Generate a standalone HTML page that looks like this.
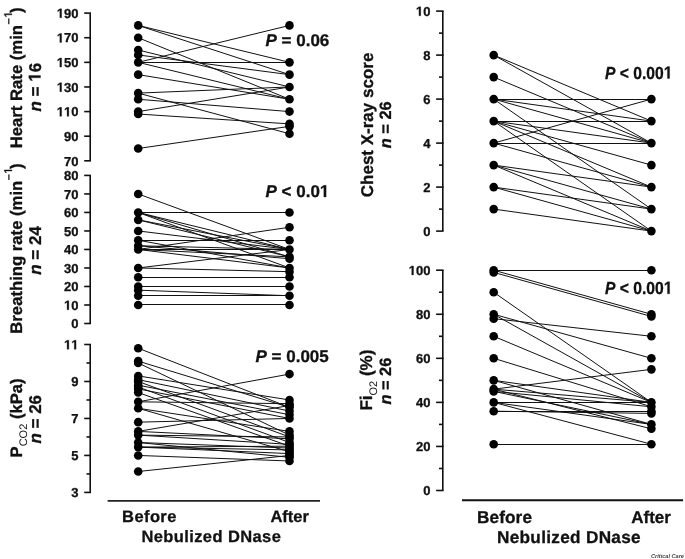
<!DOCTYPE html>
<html><head><meta charset="utf-8"><style>
html,body{margin:0;padding:0;background:#fff;}
svg{display:block;will-change:transform;}
text{font-family:"Liberation Sans", sans-serif;font-weight:bold;fill:#111;stroke:#111;stroke-width:0.3px;text-rendering:geometricPrecision;}
.tl{font-size:13px;text-anchor:end;}
.lab{font-size:16.6px;}
.nl{font-size:16px;}
.bb{font-size:16.5px;}
.pv{font-size:15.5px;}
.it{font-style:italic;}
.sub{font-weight:normal;font-size:11px;stroke:none;}
</style></head><body>
<svg width="685" height="559" viewBox="0 0 685 559">
<rect width="685" height="559" fill="#fff"/>
<line x1="90.2" y1="13.1" x2="90.2" y2="160.82" stroke="#111" stroke-width="1.6"/>
<line x1="84.2" y1="13.10" x2="91.0" y2="13.10" stroke="#111" stroke-width="1.6"/>
<line x1="84.2" y1="37.72" x2="91.0" y2="37.72" stroke="#111" stroke-width="1.6"/>
<line x1="84.2" y1="62.34" x2="91.0" y2="62.34" stroke="#111" stroke-width="1.6"/>
<line x1="84.2" y1="86.96" x2="91.0" y2="86.96" stroke="#111" stroke-width="1.6"/>
<line x1="84.2" y1="111.58" x2="91.0" y2="111.58" stroke="#111" stroke-width="1.6"/>
<line x1="84.2" y1="136.20" x2="91.0" y2="136.20" stroke="#111" stroke-width="1.6"/>
<line x1="84.2" y1="160.82" x2="91.0" y2="160.82" stroke="#111" stroke-width="1.6"/>
<g><text id="o1" x="78.50" y="17.80" class="tl">&#8199;90</text><path d="M478,0L478,1170L140,959L140,1180L493,1409L759,1409L759,0Z" transform="translate(56.80,17.80) scale(0.006348,-0.006348)" fill="#111" stroke="#111" stroke-width="47.3"/></g>
<g><text id="o2" x="78.50" y="42.42" class="tl">&#8199;70</text><path d="M478,0L478,1170L140,959L140,1180L493,1409L759,1409L759,0Z" transform="translate(56.80,42.42) scale(0.006348,-0.006348)" fill="#111" stroke="#111" stroke-width="47.3"/></g>
<g><text id="o3" x="78.50" y="67.04" class="tl">&#8199;50</text><path d="M478,0L478,1170L140,959L140,1180L493,1409L759,1409L759,0Z" transform="translate(56.80,67.04) scale(0.006348,-0.006348)" fill="#111" stroke="#111" stroke-width="47.3"/></g>
<g><text id="o4" x="78.50" y="91.66" class="tl">&#8199;30</text><path d="M478,0L478,1170L140,959L140,1180L493,1409L759,1409L759,0Z" transform="translate(56.80,91.66) scale(0.006348,-0.006348)" fill="#111" stroke="#111" stroke-width="47.3"/></g>
<g><text id="o5" x="78.50" y="116.28" class="tl">&#8199;&#8199;0</text><path d="M478,0L478,1170L140,959L140,1180L493,1409L759,1409L759,0Z" transform="translate(56.80,116.28) scale(0.006348,-0.006348)" fill="#111" stroke="#111" stroke-width="47.3"/><path d="M478,0L478,1170L140,959L140,1180L493,1409L759,1409L759,0Z" transform="translate(64.02,116.28) scale(0.006348,-0.006348)" fill="#111" stroke="#111" stroke-width="47.3"/></g>
<text x="78.50" y="140.90" class="tl">90</text>
<text x="78.50" y="165.52" class="tl">70</text>
<line x1="138.2" y1="25.41" x2="289.5" y2="62.34" stroke="#111" stroke-width="1.0"/>
<line x1="138.2" y1="25.41" x2="289.5" y2="74.65" stroke="#111" stroke-width="1.0"/>
<line x1="138.2" y1="37.72" x2="289.5" y2="99.27" stroke="#111" stroke-width="1.0"/>
<line x1="138.2" y1="50.03" x2="289.5" y2="86.96" stroke="#111" stroke-width="1.0"/>
<line x1="138.2" y1="54.95" x2="289.5" y2="74.65" stroke="#111" stroke-width="1.0"/>
<line x1="138.2" y1="62.34" x2="289.5" y2="25.41" stroke="#111" stroke-width="1.0"/>
<line x1="138.2" y1="62.50" x2="289.5" y2="62.50" stroke="#111" stroke-width="1.0"/>
<line x1="138.2" y1="62.34" x2="289.5" y2="99.27" stroke="#111" stroke-width="1.0"/>
<line x1="138.2" y1="74.65" x2="289.5" y2="99.27" stroke="#111" stroke-width="1.0"/>
<line x1="138.2" y1="93.11" x2="289.5" y2="86.96" stroke="#111" stroke-width="1.0"/>
<line x1="138.2" y1="93.11" x2="289.5" y2="133.74" stroke="#111" stroke-width="1.0"/>
<line x1="138.2" y1="99.27" x2="289.5" y2="111.58" stroke="#111" stroke-width="1.0"/>
<line x1="138.2" y1="111.58" x2="289.5" y2="86.96" stroke="#111" stroke-width="1.0"/>
<line x1="138.2" y1="114.04" x2="289.5" y2="123.89" stroke="#111" stroke-width="1.0"/>
<line x1="138.2" y1="148.51" x2="289.5" y2="126.35" stroke="#111" stroke-width="1.0"/>
<circle cx="138.2" cy="25.41" r="4.3" fill="#000"/>
<circle cx="289.5" cy="62.34" r="4.3" fill="#000"/>
<circle cx="289.5" cy="74.65" r="4.3" fill="#000"/>
<circle cx="138.2" cy="37.72" r="4.3" fill="#000"/>
<circle cx="289.5" cy="99.27" r="4.3" fill="#000"/>
<circle cx="138.2" cy="50.03" r="4.3" fill="#000"/>
<circle cx="289.5" cy="86.96" r="4.3" fill="#000"/>
<circle cx="138.2" cy="54.95" r="4.3" fill="#000"/>
<circle cx="138.2" cy="62.34" r="4.3" fill="#000"/>
<circle cx="289.5" cy="25.41" r="4.3" fill="#000"/>
<circle cx="138.2" cy="74.65" r="4.3" fill="#000"/>
<circle cx="138.2" cy="93.11" r="4.3" fill="#000"/>
<circle cx="289.5" cy="133.74" r="4.3" fill="#000"/>
<circle cx="138.2" cy="99.27" r="4.3" fill="#000"/>
<circle cx="289.5" cy="111.58" r="4.3" fill="#000"/>
<circle cx="138.2" cy="111.58" r="4.3" fill="#000"/>
<circle cx="138.2" cy="114.04" r="4.3" fill="#000"/>
<circle cx="289.5" cy="123.89" r="4.3" fill="#000"/>
<circle cx="138.2" cy="148.51" r="4.3" fill="#000"/>
<circle cx="289.5" cy="126.35" r="4.3" fill="#000"/>
<line x1="90.2" y1="175.42000000000002" x2="90.2" y2="323.5" stroke="#111" stroke-width="1.6"/>
<line x1="84.2" y1="175.42" x2="91.0" y2="175.42" stroke="#111" stroke-width="1.6"/>
<line x1="84.2" y1="193.93" x2="91.0" y2="193.93" stroke="#111" stroke-width="1.6"/>
<line x1="84.2" y1="212.44" x2="91.0" y2="212.44" stroke="#111" stroke-width="1.6"/>
<line x1="84.2" y1="230.95" x2="91.0" y2="230.95" stroke="#111" stroke-width="1.6"/>
<line x1="84.2" y1="249.46" x2="91.0" y2="249.46" stroke="#111" stroke-width="1.6"/>
<line x1="84.2" y1="267.97" x2="91.0" y2="267.97" stroke="#111" stroke-width="1.6"/>
<line x1="84.2" y1="286.48" x2="91.0" y2="286.48" stroke="#111" stroke-width="1.6"/>
<line x1="84.2" y1="304.99" x2="91.0" y2="304.99" stroke="#111" stroke-width="1.6"/>
<line x1="84.2" y1="323.50" x2="91.0" y2="323.50" stroke="#111" stroke-width="1.6"/>
<text x="78.50" y="180.12" class="tl">80</text>
<text x="78.50" y="198.63" class="tl">70</text>
<text x="78.50" y="217.14" class="tl">60</text>
<text x="78.50" y="235.65" class="tl">50</text>
<text x="78.50" y="254.16" class="tl">40</text>
<text x="78.50" y="272.67" class="tl">30</text>
<text x="78.50" y="291.18" class="tl">20</text>
<g><text id="o6" x="78.50" y="309.69" class="tl">&#8199;0</text><path d="M478,0L478,1170L140,959L140,1180L493,1409L759,1409L759,0Z" transform="translate(64.03,309.69) scale(0.006348,-0.006348)" fill="#111" stroke="#111" stroke-width="47.3"/></g>
<text x="78.50" y="328.20" class="tl">0</text>
<line x1="138.2" y1="193.93" x2="289.5" y2="249.46" stroke="#111" stroke-width="1.0"/>
<line x1="138.2" y1="212.50" x2="289.5" y2="212.50" stroke="#111" stroke-width="1.0"/>
<line x1="138.2" y1="212.44" x2="289.5" y2="249.46" stroke="#111" stroke-width="1.0"/>
<line x1="138.2" y1="212.44" x2="289.5" y2="256.86" stroke="#111" stroke-width="1.0"/>
<line x1="138.2" y1="212.44" x2="289.5" y2="267.97" stroke="#111" stroke-width="1.0"/>
<line x1="138.2" y1="219.84" x2="289.5" y2="249.46" stroke="#111" stroke-width="1.0"/>
<line x1="138.2" y1="230.95" x2="289.5" y2="249.46" stroke="#111" stroke-width="1.0"/>
<line x1="138.2" y1="240.50" x2="289.5" y2="240.50" stroke="#111" stroke-width="1.0"/>
<line x1="138.2" y1="240.20" x2="289.5" y2="267.97" stroke="#111" stroke-width="1.0"/>
<line x1="138.2" y1="245.76" x2="289.5" y2="249.46" stroke="#111" stroke-width="1.0"/>
<line x1="138.2" y1="245.76" x2="289.5" y2="258.72" stroke="#111" stroke-width="1.0"/>
<line x1="138.2" y1="249.46" x2="289.5" y2="227.25" stroke="#111" stroke-width="1.0"/>
<line x1="138.2" y1="249.50" x2="289.5" y2="249.50" stroke="#111" stroke-width="1.0"/>
<line x1="138.2" y1="249.46" x2="289.5" y2="256.86" stroke="#111" stroke-width="1.0"/>
<line x1="138.2" y1="267.97" x2="289.5" y2="249.46" stroke="#111" stroke-width="1.0"/>
<line x1="138.2" y1="267.97" x2="289.5" y2="271.67" stroke="#111" stroke-width="1.0"/>
<line x1="138.2" y1="277.50" x2="289.5" y2="277.50" stroke="#111" stroke-width="1.0"/>
<line x1="138.2" y1="286.50" x2="289.5" y2="286.50" stroke="#111" stroke-width="1.0"/>
<line x1="138.2" y1="290.18" x2="289.5" y2="295.74" stroke="#111" stroke-width="1.0"/>
<line x1="138.2" y1="295.50" x2="289.5" y2="295.50" stroke="#111" stroke-width="1.0"/>
<line x1="138.2" y1="304.50" x2="289.5" y2="304.50" stroke="#111" stroke-width="1.0"/>
<line x1="138.2" y1="219.84" x2="289.5" y2="256.86" stroke="#111" stroke-width="1.0"/>
<line x1="138.2" y1="249.46" x2="289.5" y2="267.97" stroke="#111" stroke-width="1.0"/>
<circle cx="138.2" cy="193.93" r="4.3" fill="#000"/>
<circle cx="289.5" cy="249.46" r="4.3" fill="#000"/>
<circle cx="138.2" cy="212.44" r="4.3" fill="#000"/>
<circle cx="289.5" cy="212.44" r="4.3" fill="#000"/>
<circle cx="289.5" cy="256.86" r="4.3" fill="#000"/>
<circle cx="289.5" cy="267.97" r="4.3" fill="#000"/>
<circle cx="138.2" cy="219.84" r="4.3" fill="#000"/>
<circle cx="138.2" cy="230.95" r="4.3" fill="#000"/>
<circle cx="138.2" cy="240.20" r="4.3" fill="#000"/>
<circle cx="289.5" cy="240.20" r="4.3" fill="#000"/>
<circle cx="138.2" cy="245.76" r="4.3" fill="#000"/>
<circle cx="289.5" cy="258.72" r="4.3" fill="#000"/>
<circle cx="138.2" cy="249.46" r="4.3" fill="#000"/>
<circle cx="289.5" cy="227.25" r="4.3" fill="#000"/>
<circle cx="138.2" cy="267.97" r="4.3" fill="#000"/>
<circle cx="289.5" cy="271.67" r="4.3" fill="#000"/>
<circle cx="138.2" cy="277.23" r="4.3" fill="#000"/>
<circle cx="289.5" cy="277.23" r="4.3" fill="#000"/>
<circle cx="138.2" cy="286.48" r="4.3" fill="#000"/>
<circle cx="289.5" cy="286.48" r="4.3" fill="#000"/>
<circle cx="138.2" cy="290.18" r="4.3" fill="#000"/>
<circle cx="289.5" cy="295.74" r="4.3" fill="#000"/>
<circle cx="138.2" cy="295.74" r="4.3" fill="#000"/>
<circle cx="138.2" cy="304.99" r="4.3" fill="#000"/>
<circle cx="289.5" cy="304.99" r="4.3" fill="#000"/>
<line x1="90.2" y1="344.5" x2="90.2" y2="492.41999999999996" stroke="#111" stroke-width="1.6"/>
<line x1="84.2" y1="344.50" x2="91.0" y2="344.50" stroke="#111" stroke-width="1.6"/>
<line x1="84.2" y1="381.48" x2="91.0" y2="381.48" stroke="#111" stroke-width="1.6"/>
<line x1="84.2" y1="418.46" x2="91.0" y2="418.46" stroke="#111" stroke-width="1.6"/>
<line x1="84.2" y1="455.44" x2="91.0" y2="455.44" stroke="#111" stroke-width="1.6"/>
<line x1="84.2" y1="492.42" x2="91.0" y2="492.42" stroke="#111" stroke-width="1.6"/>
<line x1="86.5" y1="362.99" x2="90.2" y2="362.99" stroke="#111" stroke-width="1.6"/>
<line x1="86.5" y1="399.97" x2="90.2" y2="399.97" stroke="#111" stroke-width="1.6"/>
<line x1="86.5" y1="436.95" x2="90.2" y2="436.95" stroke="#111" stroke-width="1.6"/>
<line x1="86.5" y1="473.93" x2="90.2" y2="473.93" stroke="#111" stroke-width="1.6"/>
<g><text id="o7" x="78.50" y="349.20" class="tl">&#8199;&#8199;</text><path d="M478,0L478,1170L140,959L140,1180L493,1409L759,1409L759,0Z" transform="translate(64.03,349.20) scale(0.006348,-0.006348)" fill="#111" stroke="#111" stroke-width="47.3"/><path d="M478,0L478,1170L140,959L140,1180L493,1409L759,1409L759,0Z" transform="translate(71.25,349.20) scale(0.006348,-0.006348)" fill="#111" stroke="#111" stroke-width="47.3"/></g>
<text x="78.50" y="386.18" class="tl">9</text>
<text x="78.50" y="423.16" class="tl">7</text>
<text x="78.50" y="460.14" class="tl">5</text>
<text x="78.50" y="497.12" class="tl">3</text>
<line x1="138.2" y1="348.20" x2="289.5" y2="407.37" stroke="#111" stroke-width="1.0"/>
<line x1="138.2" y1="361.14" x2="289.5" y2="407.37" stroke="#111" stroke-width="1.0"/>
<line x1="138.2" y1="362.99" x2="289.5" y2="435.10" stroke="#111" stroke-width="1.0"/>
<line x1="138.2" y1="375.93" x2="289.5" y2="399.97" stroke="#111" stroke-width="1.0"/>
<line x1="138.2" y1="379.63" x2="289.5" y2="411.06" stroke="#111" stroke-width="1.0"/>
<line x1="138.2" y1="381.48" x2="289.5" y2="436.95" stroke="#111" stroke-width="1.0"/>
<line x1="138.2" y1="385.18" x2="289.5" y2="414.76" stroke="#111" stroke-width="1.0"/>
<line x1="138.2" y1="387.03" x2="289.5" y2="442.50" stroke="#111" stroke-width="1.0"/>
<line x1="138.2" y1="388.88" x2="289.5" y2="418.46" stroke="#111" stroke-width="1.0"/>
<line x1="138.2" y1="392.57" x2="289.5" y2="446.19" stroke="#111" stroke-width="1.0"/>
<line x1="138.2" y1="401.82" x2="289.5" y2="374.08" stroke="#111" stroke-width="1.0"/>
<line x1="138.2" y1="401.82" x2="289.5" y2="403.67" stroke="#111" stroke-width="1.0"/>
<line x1="138.2" y1="408.29" x2="289.5" y2="431.40" stroke="#111" stroke-width="1.0"/>
<line x1="138.2" y1="408.29" x2="289.5" y2="451.74" stroke="#111" stroke-width="1.0"/>
<line x1="138.2" y1="422.16" x2="289.5" y2="418.46" stroke="#111" stroke-width="1.0"/>
<line x1="138.2" y1="431.40" x2="289.5" y2="405.52" stroke="#111" stroke-width="1.0"/>
<line x1="138.2" y1="431.40" x2="289.5" y2="438.80" stroke="#111" stroke-width="1.0"/>
<line x1="138.2" y1="435.10" x2="289.5" y2="436.95" stroke="#111" stroke-width="1.0"/>
<line x1="138.2" y1="435.10" x2="289.5" y2="444.35" stroke="#111" stroke-width="1.0"/>
<line x1="138.2" y1="442.50" x2="289.5" y2="448.04" stroke="#111" stroke-width="1.0"/>
<line x1="138.2" y1="447.12" x2="289.5" y2="446.19" stroke="#111" stroke-width="1.0"/>
<line x1="138.2" y1="447.12" x2="289.5" y2="449.89" stroke="#111" stroke-width="1.0"/>
<line x1="138.2" y1="442.50" x2="289.5" y2="457.29" stroke="#111" stroke-width="1.0"/>
<line x1="138.2" y1="455.44" x2="289.5" y2="460.99" stroke="#111" stroke-width="1.0"/>
<line x1="138.2" y1="447.12" x2="289.5" y2="453.59" stroke="#111" stroke-width="1.0"/>
<line x1="138.2" y1="471.53" x2="289.5" y2="455.44" stroke="#111" stroke-width="1.0"/>
<circle cx="138.2" cy="348.20" r="4.3" fill="#000"/>
<circle cx="289.5" cy="407.37" r="4.3" fill="#000"/>
<circle cx="138.2" cy="361.14" r="4.3" fill="#000"/>
<circle cx="138.2" cy="362.99" r="4.3" fill="#000"/>
<circle cx="289.5" cy="435.10" r="4.3" fill="#000"/>
<circle cx="138.2" cy="375.93" r="4.3" fill="#000"/>
<circle cx="289.5" cy="399.97" r="4.3" fill="#000"/>
<circle cx="138.2" cy="379.63" r="4.3" fill="#000"/>
<circle cx="289.5" cy="411.06" r="4.3" fill="#000"/>
<circle cx="138.2" cy="381.48" r="4.3" fill="#000"/>
<circle cx="289.5" cy="436.95" r="4.3" fill="#000"/>
<circle cx="138.2" cy="385.18" r="4.3" fill="#000"/>
<circle cx="289.5" cy="414.76" r="4.3" fill="#000"/>
<circle cx="138.2" cy="387.03" r="4.3" fill="#000"/>
<circle cx="289.5" cy="442.50" r="4.3" fill="#000"/>
<circle cx="138.2" cy="388.88" r="4.3" fill="#000"/>
<circle cx="289.5" cy="418.46" r="4.3" fill="#000"/>
<circle cx="138.2" cy="392.57" r="4.3" fill="#000"/>
<circle cx="289.5" cy="446.19" r="4.3" fill="#000"/>
<circle cx="138.2" cy="401.82" r="4.3" fill="#000"/>
<circle cx="289.5" cy="374.08" r="4.3" fill="#000"/>
<circle cx="289.5" cy="403.67" r="4.3" fill="#000"/>
<circle cx="138.2" cy="408.29" r="4.3" fill="#000"/>
<circle cx="289.5" cy="431.40" r="4.3" fill="#000"/>
<circle cx="289.5" cy="451.74" r="4.3" fill="#000"/>
<circle cx="138.2" cy="422.16" r="4.3" fill="#000"/>
<circle cx="138.2" cy="431.40" r="4.3" fill="#000"/>
<circle cx="289.5" cy="405.52" r="4.3" fill="#000"/>
<circle cx="289.5" cy="438.80" r="4.3" fill="#000"/>
<circle cx="138.2" cy="435.10" r="4.3" fill="#000"/>
<circle cx="289.5" cy="444.35" r="4.3" fill="#000"/>
<circle cx="138.2" cy="442.50" r="4.3" fill="#000"/>
<circle cx="289.5" cy="448.04" r="4.3" fill="#000"/>
<circle cx="138.2" cy="447.12" r="4.3" fill="#000"/>
<circle cx="289.5" cy="449.89" r="4.3" fill="#000"/>
<circle cx="289.5" cy="457.29" r="4.3" fill="#000"/>
<circle cx="138.2" cy="455.44" r="4.3" fill="#000"/>
<circle cx="289.5" cy="460.99" r="4.3" fill="#000"/>
<circle cx="289.5" cy="453.59" r="4.3" fill="#000"/>
<circle cx="138.2" cy="471.53" r="4.3" fill="#000"/>
<circle cx="289.5" cy="455.44" r="4.3" fill="#000"/>
<line x1="442.8" y1="11.099999999999994" x2="442.8" y2="231.1" stroke="#111" stroke-width="1.6"/>
<line x1="436.1" y1="11.10" x2="443.6" y2="11.10" stroke="#111" stroke-width="1.6"/>
<line x1="436.1" y1="55.10" x2="443.6" y2="55.10" stroke="#111" stroke-width="1.6"/>
<line x1="436.1" y1="99.10" x2="443.6" y2="99.10" stroke="#111" stroke-width="1.6"/>
<line x1="436.1" y1="143.10" x2="443.6" y2="143.10" stroke="#111" stroke-width="1.6"/>
<line x1="436.1" y1="187.10" x2="443.6" y2="187.10" stroke="#111" stroke-width="1.6"/>
<line x1="436.1" y1="231.10" x2="443.6" y2="231.10" stroke="#111" stroke-width="1.6"/>
<line x1="439.0" y1="33.10" x2="442.8" y2="33.10" stroke="#111" stroke-width="1.6"/>
<line x1="439.0" y1="77.10" x2="442.8" y2="77.10" stroke="#111" stroke-width="1.6"/>
<line x1="439.0" y1="121.10" x2="442.8" y2="121.10" stroke="#111" stroke-width="1.6"/>
<line x1="439.0" y1="165.10" x2="442.8" y2="165.10" stroke="#111" stroke-width="1.6"/>
<line x1="439.0" y1="209.10" x2="442.8" y2="209.10" stroke="#111" stroke-width="1.6"/>
<g><text id="o8" x="430.40" y="15.80" class="tl">&#8199;0</text><path d="M478,0L478,1170L140,959L140,1180L493,1409L759,1409L759,0Z" transform="translate(415.93,15.80) scale(0.006348,-0.006348)" fill="#111" stroke="#111" stroke-width="47.3"/></g>
<text x="430.40" y="59.80" class="tl">8</text>
<text x="430.40" y="103.80" class="tl">6</text>
<text x="430.40" y="147.80" class="tl">4</text>
<text x="430.40" y="191.80" class="tl">2</text>
<text x="430.40" y="235.80" class="tl">0</text>
<line x1="493.7" y1="55.10" x2="651.4" y2="121.10" stroke="#111" stroke-width="1.0"/>
<line x1="493.7" y1="55.10" x2="651.4" y2="143.10" stroke="#111" stroke-width="1.0"/>
<line x1="493.7" y1="77.10" x2="651.4" y2="143.10" stroke="#111" stroke-width="1.0"/>
<line x1="493.7" y1="99.50" x2="651.4" y2="99.50" stroke="#111" stroke-width="1.0"/>
<line x1="493.7" y1="99.10" x2="651.4" y2="121.10" stroke="#111" stroke-width="1.0"/>
<line x1="493.7" y1="99.10" x2="651.4" y2="143.10" stroke="#111" stroke-width="1.0"/>
<line x1="493.7" y1="99.10" x2="651.4" y2="209.10" stroke="#111" stroke-width="1.0"/>
<line x1="493.7" y1="121.50" x2="651.4" y2="121.50" stroke="#111" stroke-width="1.0"/>
<line x1="493.7" y1="121.10" x2="651.4" y2="143.10" stroke="#111" stroke-width="1.0"/>
<line x1="493.7" y1="121.10" x2="651.4" y2="165.10" stroke="#111" stroke-width="1.0"/>
<line x1="493.7" y1="121.10" x2="651.4" y2="187.10" stroke="#111" stroke-width="1.0"/>
<line x1="493.7" y1="121.10" x2="651.4" y2="231.10" stroke="#111" stroke-width="1.0"/>
<line x1="493.7" y1="143.10" x2="651.4" y2="99.10" stroke="#111" stroke-width="1.0"/>
<line x1="493.7" y1="143.50" x2="651.4" y2="143.50" stroke="#111" stroke-width="1.0"/>
<line x1="493.7" y1="143.10" x2="651.4" y2="187.10" stroke="#111" stroke-width="1.0"/>
<line x1="493.7" y1="165.10" x2="651.4" y2="187.10" stroke="#111" stroke-width="1.0"/>
<line x1="493.7" y1="165.10" x2="651.4" y2="209.10" stroke="#111" stroke-width="1.0"/>
<line x1="493.7" y1="165.10" x2="651.4" y2="231.10" stroke="#111" stroke-width="1.0"/>
<line x1="493.7" y1="187.10" x2="651.4" y2="209.10" stroke="#111" stroke-width="1.0"/>
<line x1="493.7" y1="187.10" x2="651.4" y2="231.10" stroke="#111" stroke-width="1.0"/>
<line x1="493.7" y1="209.10" x2="651.4" y2="231.10" stroke="#111" stroke-width="1.0"/>
<circle cx="493.7" cy="55.10" r="4.3" fill="#000"/>
<circle cx="651.4" cy="121.10" r="4.3" fill="#000"/>
<circle cx="651.4" cy="143.10" r="4.3" fill="#000"/>
<circle cx="493.7" cy="77.10" r="4.3" fill="#000"/>
<circle cx="493.7" cy="99.10" r="4.3" fill="#000"/>
<circle cx="651.4" cy="99.10" r="4.3" fill="#000"/>
<circle cx="651.4" cy="209.10" r="4.3" fill="#000"/>
<circle cx="493.7" cy="121.10" r="4.3" fill="#000"/>
<circle cx="651.4" cy="165.10" r="4.3" fill="#000"/>
<circle cx="651.4" cy="187.10" r="4.3" fill="#000"/>
<circle cx="651.4" cy="231.10" r="4.3" fill="#000"/>
<circle cx="493.7" cy="143.10" r="4.3" fill="#000"/>
<circle cx="493.7" cy="165.10" r="4.3" fill="#000"/>
<circle cx="493.7" cy="187.10" r="4.3" fill="#000"/>
<circle cx="493.7" cy="209.10" r="4.3" fill="#000"/>
<line x1="442.8" y1="270.20000000000005" x2="442.8" y2="490.5" stroke="#111" stroke-width="1.6"/>
<line x1="436.1" y1="270.20" x2="443.6" y2="270.20" stroke="#111" stroke-width="1.6"/>
<line x1="436.1" y1="314.26" x2="443.6" y2="314.26" stroke="#111" stroke-width="1.6"/>
<line x1="436.1" y1="358.32" x2="443.6" y2="358.32" stroke="#111" stroke-width="1.6"/>
<line x1="436.1" y1="402.38" x2="443.6" y2="402.38" stroke="#111" stroke-width="1.6"/>
<line x1="436.1" y1="446.44" x2="443.6" y2="446.44" stroke="#111" stroke-width="1.6"/>
<line x1="436.1" y1="490.50" x2="443.6" y2="490.50" stroke="#111" stroke-width="1.6"/>
<line x1="439.0" y1="292.23" x2="442.8" y2="292.23" stroke="#111" stroke-width="1.6"/>
<line x1="439.0" y1="336.29" x2="442.8" y2="336.29" stroke="#111" stroke-width="1.6"/>
<line x1="439.0" y1="380.35" x2="442.8" y2="380.35" stroke="#111" stroke-width="1.6"/>
<line x1="439.0" y1="424.41" x2="442.8" y2="424.41" stroke="#111" stroke-width="1.6"/>
<line x1="439.0" y1="468.47" x2="442.8" y2="468.47" stroke="#111" stroke-width="1.6"/>
<g><text id="o9" x="430.40" y="274.90" class="tl">&#8199;00</text><path d="M478,0L478,1170L140,959L140,1180L493,1409L759,1409L759,0Z" transform="translate(408.70,274.90) scale(0.006348,-0.006348)" fill="#111" stroke="#111" stroke-width="47.3"/></g>
<text x="430.40" y="318.96" class="tl">80</text>
<text x="430.40" y="363.02" class="tl">60</text>
<text x="430.40" y="407.08" class="tl">40</text>
<text x="430.40" y="451.14" class="tl">20</text>
<text x="430.40" y="495.20" class="tl">0</text>
<line x1="493.7" y1="270.50" x2="651.4" y2="270.50" stroke="#111" stroke-width="1.0"/>
<line x1="493.7" y1="270.20" x2="651.4" y2="314.26" stroke="#111" stroke-width="1.0"/>
<line x1="493.7" y1="272.40" x2="651.4" y2="316.46" stroke="#111" stroke-width="1.0"/>
<line x1="493.7" y1="292.23" x2="651.4" y2="402.38" stroke="#111" stroke-width="1.0"/>
<line x1="493.7" y1="318.67" x2="651.4" y2="336.29" stroke="#111" stroke-width="1.0"/>
<line x1="493.7" y1="314.26" x2="651.4" y2="358.32" stroke="#111" stroke-width="1.0"/>
<line x1="493.7" y1="314.26" x2="651.4" y2="402.38" stroke="#111" stroke-width="1.0"/>
<line x1="493.7" y1="336.29" x2="651.4" y2="402.38" stroke="#111" stroke-width="1.0"/>
<line x1="493.7" y1="358.32" x2="651.4" y2="406.79" stroke="#111" stroke-width="1.0"/>
<line x1="493.7" y1="380.35" x2="651.4" y2="402.38" stroke="#111" stroke-width="1.0"/>
<line x1="493.7" y1="380.35" x2="651.4" y2="424.41" stroke="#111" stroke-width="1.0"/>
<line x1="493.7" y1="389.16" x2="651.4" y2="369.34" stroke="#111" stroke-width="1.0"/>
<line x1="493.7" y1="389.16" x2="651.4" y2="402.38" stroke="#111" stroke-width="1.0"/>
<line x1="493.7" y1="391.37" x2="651.4" y2="406.79" stroke="#111" stroke-width="1.0"/>
<line x1="493.7" y1="391.37" x2="651.4" y2="424.41" stroke="#111" stroke-width="1.0"/>
<line x1="493.7" y1="389.16" x2="651.4" y2="428.82" stroke="#111" stroke-width="1.0"/>
<line x1="493.7" y1="402.50" x2="651.4" y2="402.50" stroke="#111" stroke-width="1.0"/>
<line x1="493.7" y1="402.38" x2="651.4" y2="444.24" stroke="#111" stroke-width="1.0"/>
<line x1="493.7" y1="402.38" x2="651.4" y2="424.41" stroke="#111" stroke-width="1.0"/>
<line x1="493.7" y1="411.50" x2="651.4" y2="411.50" stroke="#111" stroke-width="1.0"/>
<line x1="493.7" y1="411.19" x2="651.4" y2="413.39" stroke="#111" stroke-width="1.0"/>
<line x1="493.7" y1="444.50" x2="651.4" y2="444.50" stroke="#111" stroke-width="1.0"/>
<circle cx="493.7" cy="270.20" r="4.3" fill="#000"/>
<circle cx="651.4" cy="270.20" r="4.3" fill="#000"/>
<circle cx="651.4" cy="314.26" r="4.3" fill="#000"/>
<circle cx="493.7" cy="272.40" r="4.3" fill="#000"/>
<circle cx="651.4" cy="316.46" r="4.3" fill="#000"/>
<circle cx="493.7" cy="292.23" r="4.3" fill="#000"/>
<circle cx="651.4" cy="402.38" r="4.3" fill="#000"/>
<circle cx="493.7" cy="318.67" r="4.3" fill="#000"/>
<circle cx="651.4" cy="336.29" r="4.3" fill="#000"/>
<circle cx="493.7" cy="314.26" r="4.3" fill="#000"/>
<circle cx="651.4" cy="358.32" r="4.3" fill="#000"/>
<circle cx="493.7" cy="336.29" r="4.3" fill="#000"/>
<circle cx="493.7" cy="358.32" r="4.3" fill="#000"/>
<circle cx="651.4" cy="406.79" r="4.3" fill="#000"/>
<circle cx="493.7" cy="380.35" r="4.3" fill="#000"/>
<circle cx="651.4" cy="424.41" r="4.3" fill="#000"/>
<circle cx="493.7" cy="389.16" r="4.3" fill="#000"/>
<circle cx="651.4" cy="369.34" r="4.3" fill="#000"/>
<circle cx="493.7" cy="391.37" r="4.3" fill="#000"/>
<circle cx="651.4" cy="428.82" r="4.3" fill="#000"/>
<circle cx="493.7" cy="402.38" r="4.3" fill="#000"/>
<circle cx="651.4" cy="444.24" r="4.3" fill="#000"/>
<circle cx="493.7" cy="411.19" r="4.3" fill="#000"/>
<circle cx="651.4" cy="411.19" r="4.3" fill="#000"/>
<circle cx="651.4" cy="413.39" r="4.3" fill="#000"/>
<circle cx="493.7" cy="444.24" r="4.3" fill="#000"/>
<line x1="107.6" y1="500.9" x2="320" y2="500.9" stroke="#222" stroke-width="1.9"/>
<line x1="462" y1="500.25" x2="683.1" y2="500.25" stroke="#111" stroke-width="1.8"/>
<text x="122.1" y="522.3" style="font-size:16.5px;letter-spacing:0.4px">Before</text>
<text x="270.4" y="522.1" style="font-size:16.5px">After</text>
<text x="141.4" y="542.3" style="font-size:16.5px;letter-spacing:0.4px">Nebulized DNase</text>
<text x="477.0" y="523.0" style="font-size:17.2px;letter-spacing:0.1px">Before</text>
<text x="631.2" y="523.0" style="font-size:17.0px">After</text>
<text x="497.0" y="542.9" style="font-size:17.2px;letter-spacing:0.3px">Nebulized DNase</text>
<text x="651.0" y="558.2" style="font-size:5.6px;font-style:italic;fill:#444;stroke:none">Critical Care</text>
<text x="265.5" y="46.1" style="font-size:17px"><tspan class="it">P</tspan> = 0.06</text>
<g><text id="o10" x="265.5" y="197.0" style="font-size:17px"><tspan class="it">P</tspan> &lt; 0.0&#8199;</text><path d="M478,0L478,1170L140,959L140,1180L493,1409L759,1409L759,0Z" transform="translate(319.84,197.00) scale(0.008301,-0.008301)" fill="#111" stroke="#111" stroke-width="36.1"/></g>
<text x="255.5" y="362.0" style="font-size:17px"><tspan class="it">P</tspan> = 0.005</text>
<g transform="translate(605.0,78.6) scale(0.895,1)"><text id="o11" style="font-size:17.5px"><tspan class="it">P</tspan> &lt; 0.00&#8199;</text><path d="M478,0L478,1170L140,959L140,1180L493,1409L759,1409L759,0Z" transform="translate(65.69,0.00) scale(0.008545,-0.008545)" fill="#111" stroke="#111" stroke-width="35.1"/></g>
<g transform="translate(605.0,293.8) scale(0.895,1)"><text id="o12" style="font-size:17.5px"><tspan class="it">P</tspan> &lt; 0.00&#8199;</text><path d="M478,0L478,1170L140,959L140,1180L493,1409L759,1409L759,0Z" transform="translate(65.69,0.00) scale(0.008545,-0.008545)" fill="#111" stroke="#111" stroke-width="35.1"/></g>
<text transform="translate(22,148.3) rotate(-90)" style="font-size:16.7px">Heart Rate (min</text>
<rect x="8.20" y="18.40" width="1.2" height="5.80" fill="#111"/>
<g transform="translate(11.9,17.6) rotate(-90)"><text id="o13" style="font-size:11px;font-weight:normal;stroke-width:0.1px">&#8199;</text><path d="M515,0L515,1237L197,1010L197,1180L530,1409L696,1409L696,0Z" transform="translate(0.00,0.00) scale(0.005371,-0.005371)" fill="#111" stroke="#111" stroke-width="83.8"/></g>
<text transform="translate(22,13.1) rotate(-90)" style="font-size:16.7px">)</text>
<g transform="translate(40.5,111.5) rotate(-90)"><text id="o14" style="font-size:17px"><tspan class="it">n</tspan> = &#8199;6</text><path d="M478,0L478,1170L140,959L140,1180L493,1409L759,1409L759,0Z" transform="translate(29.75,0.00) scale(0.008301,-0.008301)" fill="#111" stroke="#111" stroke-width="36.1"/></g>
<text transform="translate(22,333.7) rotate(-90)" style="font-size:16.7px">Breathing rate (min</text>
<rect x="8.30" y="174.40" width="1.2" height="5.60" fill="#111"/>
<g transform="translate(11.9,173.7) rotate(-90)"><text id="o15" style="font-size:11px;font-weight:normal;stroke-width:0.1px">&#8199;</text><path d="M515,0L515,1237L197,1010L197,1180L530,1409L696,1409L696,0Z" transform="translate(0.00,0.00) scale(0.005371,-0.005371)" fill="#111" stroke="#111" stroke-width="83.8"/></g>
<text transform="translate(22,169.1) rotate(-90)" style="font-size:16.7px">)</text>
<text transform="translate(40.5,274.8) rotate(-90)" style="font-size:17px"><tspan class="it">n</tspan> = 24</text>
<text transform="translate(22,457.4) rotate(-90)" style="font-size:16.6px">P<tspan dy="5.4" class="sub">CO2</tspan><tspan dy="-5.4"> (kPa)</tspan></text>
<text transform="translate(40.5,443.6) rotate(-90)" style="font-size:17px"><tspan class="it">n</tspan> = 26</text>
<text transform="translate(372.5,197.2) rotate(-90)" style="font-size:17px">Chest X-ray score</text>
<text transform="translate(391.3,148.2) rotate(-90)" style="font-size:16.4px"><tspan class="it">n</tspan> = 26</text>
<text transform="translate(372,410.6) rotate(-90)" style="font-size:17px">Fi<tspan dy="5.4" class="sub">O2</tspan><tspan dy="-5.4"> (%)</tspan></text>
<text transform="translate(391.3,404.6) rotate(-90)" style="font-size:16.4px"><tspan class="it">n</tspan> = 26</text>
</svg></body></html>
